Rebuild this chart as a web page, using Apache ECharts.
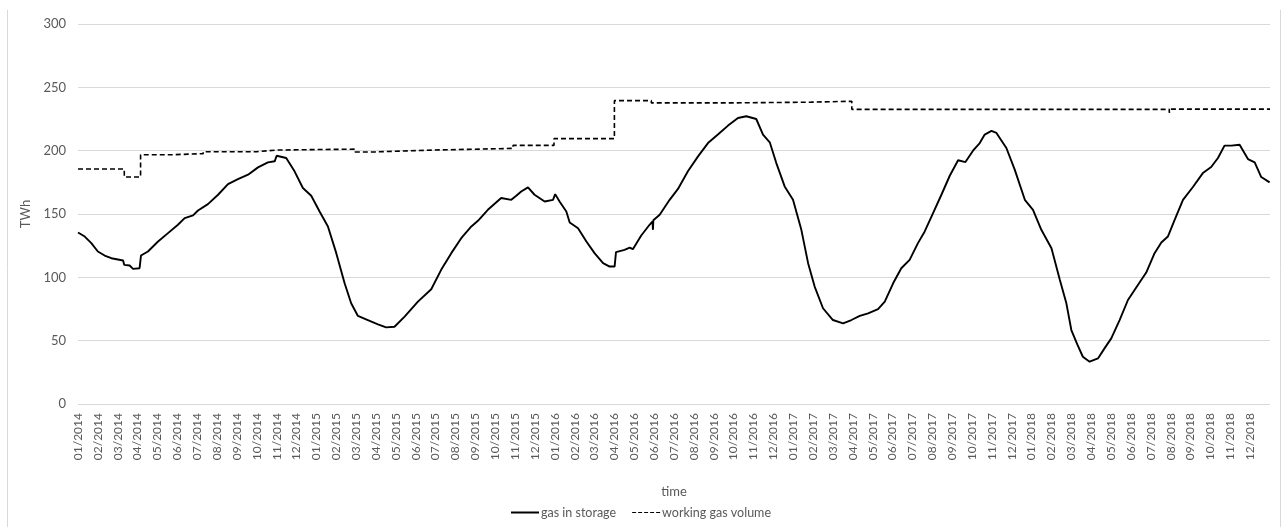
<!DOCTYPE html>
<html>
<head>
<meta charset="utf-8">
<script src="https://cdn.jsdelivr.net/npm/echarts@6/dist/echarts.min.js"></script>
<style>
html,body{margin:0;padding:0;background:#fff;}
#chart{width:1282px;height:527px;}
</style>
</head>
<body>
<div id="chart"></div>
<script>
// Tick labels (one per month, placed at each month start)
const monthLabels = [
 "01/2014","02/2014","03/2014","04/2014","05/2014","06/2014","07/2014","08/2014","09/2014","10/2014","11/2014","12/2014",
 "01/2015","02/2015","03/2015","04/2015","05/2015","06/2015","07/2015","08/2015","09/2015","10/2015","11/2015","12/2015",
 "01/2016","02/2016","03/2016","04/2016","05/2016","06/2016","07/2016","08/2016","09/2016","10/2016","11/2016","12/2016",
 "01/2017","02/2017","03/2017","04/2017","05/2017","06/2017","07/2017","08/2017","09/2017","10/2017","11/2017","12/2017",
 "01/2018","02/2018","03/2018","04/2018","05/2018","06/2018","07/2018","08/2018","09/2018","10/2018","11/2018","12/2018"
];

// gas in storage: time in months since 01/2014, value in TWh
const storageMonth = [
 0,0.34,0.67,1.0,1.34,1.68,2.27,2.33,2.6,2.77,3.1,3.17,3.52,4.03,4.53,5.03,5.37,5.79,6.04,6.54,
 7.05,7.55,8.05,8.56,9.06,9.56,9.9,10.0,10.48,10.9,11.32,11.74,12.16,12.58,13.0,13.42,13.75,14.09,14.59,15.1,
 15.51,15.93,16.44,17.11,17.78,18.28,18.79,19.29,19.8,20.13,20.63,21.3,21.81,22.06,22.31,22.65,22.98,23.49,23.91,24.02,
 24.24,24.58,24.75,25.17,25.59,26.0,26.43,26.76,27.01,27.08,27.51,27.77,27.93,28.35,28.77,28.92,28.94,28.96,29.28,29.78,
 30.2,30.7,31.21,31.71,32.21,32.72,33.22,33.64,34.14,34.48,34.82,35.15,35.57,35.99,36.41,36.75,37.08,37.5,38.0,38.51,
 38.93,39.35,39.77,40.27,40.61,41.03,41.44,41.86,42.28,42.62,43.04,43.46,43.88,44.3,44.67,45.05,45.39,45.64,45.98,46.23,
 46.73,47.15,47.66,48.07,48.49,49.0,49.42,49.75,50.0,50.3,50.58,50.92,51.34,51.67,52.01,52.43,52.85,53.35,53.77,54.19,
 54.53,54.86,55.2,55.62,56.12,56.62,57.04,57.38,57.71,58.05,58.47,58.89,59.23,59.56,59.98
];
const storageTWh = [
 135.4,132.2,127,120.4,117.2,115.1,113.3,109.8,109.3,106.7,107.2,117.2,120.4,128.3,134.9,141.5,146.7,148.9,152.8,157.8,
 165.2,173.6,177.6,181,186.8,190.8,191.6,196,194.2,183.7,170.5,164.4,152,140.2,119.1,95.3,79.5,69.5,66.3,62.9,
 60.5,61,69,80.8,90.6,105.9,119.1,130.9,140.2,144.6,153.3,162.6,161.2,164.4,167.8,171,165.2,159.9,161.2,165.7,
 159.9,152,143.3,138.8,128.3,119.1,111.2,108.5,108.5,119.9,121.7,123.5,122.2,133,141.5,144.1,137.5,145,149.4,161.2,
 169.8,183.7,195.5,206,212.7,219.8,225.8,227.2,225,212.7,206.6,190.2,171.8,161.2,137.5,111.2,92.7,75.6,66.3,63.7,
 66.3,69.5,71.6,74.9,80.8,95.3,107.2,113.8,127,136.2,150.7,165.2,180.2,192.4,191,200,206,212.7,215.6,214,
 202.1,185,161.2,153.3,137.5,123,98,79.5,58.4,47,37.3,33.4,36,43.9,51.8,66.3,82.1,94,103.8,119.1,
 127.5,132.2,145.4,161.2,171.3,182.3,187.1,194.2,204,204,204.7,193.4,190.8,179.2,175
];

// working gas volume: step changes (month, TWh)
const capacityMonth = [0,2.33,3.15,4.7,6.3,9.0,10.0,13.95,14.95,17.95,21.9,23.96,27.0,28.86,32.9,36.9,38.95,54.93,55.0,60];
const capacityTWh   = [185.5,179.2,196.8,197.6,199.2,200.5,201.2,199.0,200.5,201.8,204.2,209.5,239.5,237.7,238.3,239.0,232.6,230.0,232.8,232.8];

const storageData = storageMonth.map((m, i) => [m, storageTWh[i]]);
const capacityData = capacityMonth.map((m, i) => [m, capacityTWh[i]]);

const FONT = 'Lato, "Open Sans", sans-serif';
const TXT = '#595959';

const chart = echarts.init(document.getElementById('chart'), null, {renderer: 'canvas'});
chart.setOption({
  animation: false,
  backgroundColor: '#ffffff',
  textStyle: {fontFamily: FONT},
  graphic: [
    {type: 'line', shape: {x1: 7.5, y1: 10, x2: 7.5, y2: 527}, style: {stroke: '#d9d9d9', lineWidth: 1}},
    {type: 'line', shape: {x1: 1280.5, y1: 10, x2: 1280.5, y2: 527}, style: {stroke: '#d9d9d9', lineWidth: 1}}
  ],
  grid: {left: 78, right: 12, top: 24, bottom: 123},
  legend: {
    top: 501,
    left: 'center',
    itemWidth: 28,
    itemHeight: 2,
    itemGap: 16,
    textStyle: {fontFamily: FONT, fontSize: 12.5, color: TXT, padding: [0, 0, 0, -3]},
    data: [
      {name: 'gas in storage', icon: 'rect'},
      {name: 'working gas volume', icon: 'path://M0,0h4v1h-4z M6,0h4v1h-4z M12,0h4v1h-4z M18,0h4v1h-4z M24,0h4v1h-4z'}
    ]
  },
  xAxis: {
    type: 'value',
    min: 0,
    max: 60,
    interval: 1,
    name: 'time',
    nameLocation: 'middle',
    nameGap: 81,
    nameTextStyle: {fontFamily: FONT, fontSize: 13, color: TXT},
    axisLine: {show: false},
    axisTick: {show: false},
    splitLine: {show: false},
    axisLabel: {
      rotate: 90,
      margin: 9,
      fontFamily: FONT,
      fontSize: 12,
      color: TXT,
      showMaxLabel: false,
      formatter: function (v) { return monthLabels[Math.round(v)] || ''; }
    }
  },
  yAxis: {
    type: 'value',
    min: 0,
    max: 300,
    interval: 50,
    name: 'TWh',
    nameLocation: 'middle',
    nameGap: 40,
    nameRotate: 90,
    nameTextStyle: {fontFamily: FONT, fontSize: 13, color: TXT},
    axisLine: {show: false},
    axisTick: {show: false},
    splitLine: {lineStyle: {color: '#d9d9d9', width: 1}},
    axisLabel: {margin: 12, fontFamily: FONT, fontSize: 13, color: TXT}
  },
  series: [
    {
      name: 'gas in storage',
      type: 'line',
      data: storageData,
      symbol: 'none',
      color: '#000000',
      lineStyle: {color: '#000000', width: 1.9}
    },
    {
      name: 'working gas volume',
      type: 'line',
      data: capacityData,
      step: 'end',
      symbol: 'none',
      color: '#000000',
      lineStyle: {color: '#000000', width: 1.6, type: [5, 3]}
    }
  ]
});
</script>
</body>
</html>
